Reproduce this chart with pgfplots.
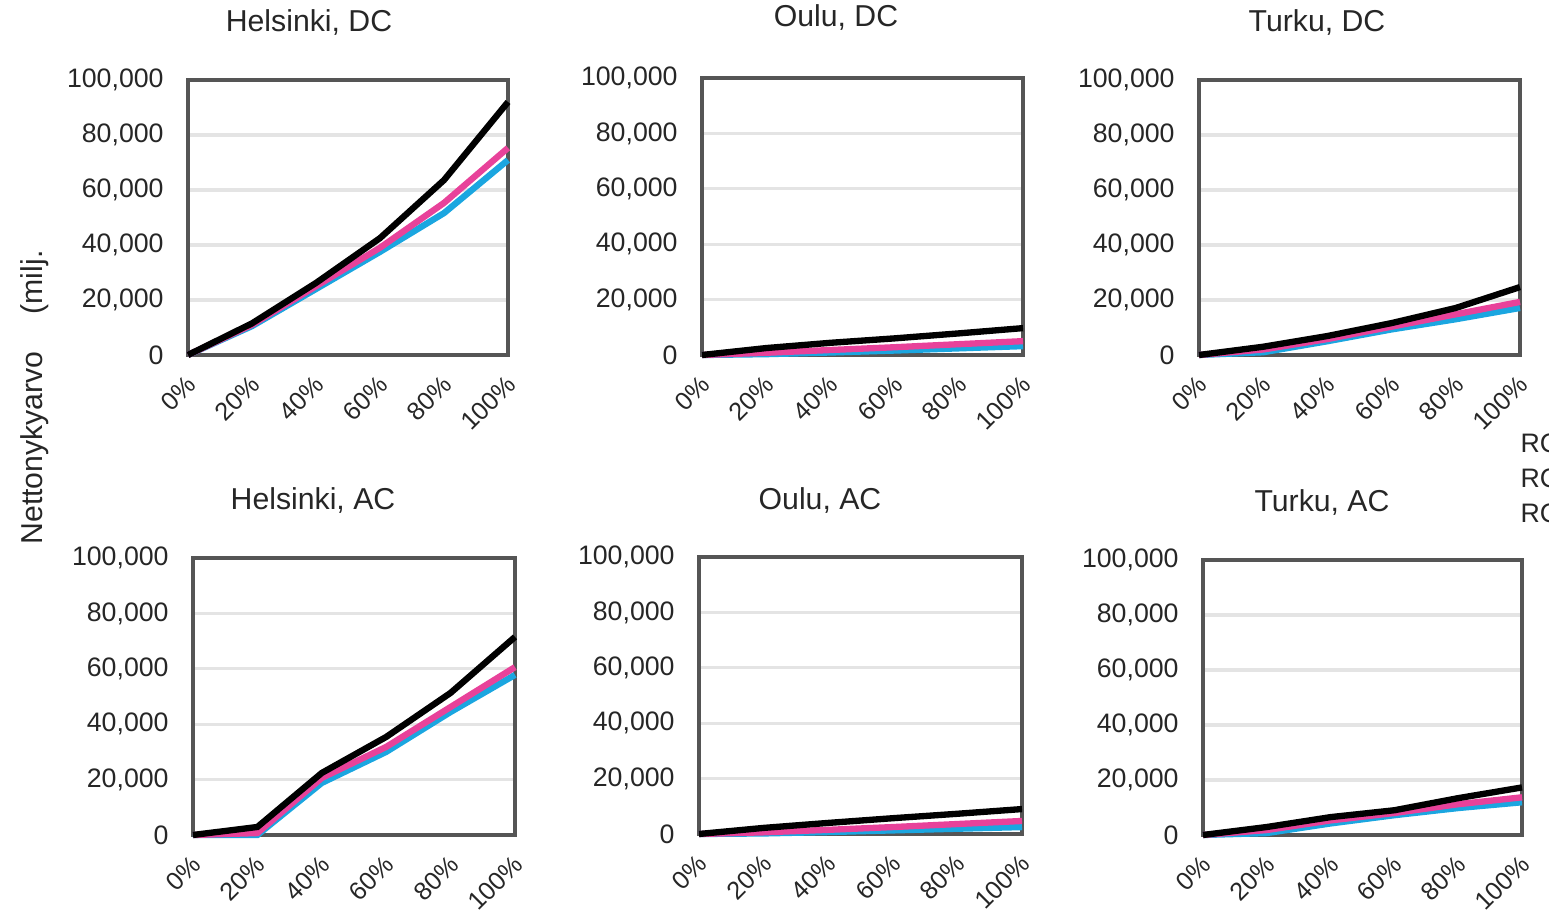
\documentclass[border=0pt]{standalone}
\usepackage{pgfplots}
\pgfplotsset{compat=1.18}
\usepackage{fontspec}
\setmainfont{Liberation Sans}
\definecolor{cpink}{HTML}{E8429A}
\definecolor{cblue}{HTML}{1BA6E0}
\definecolor{gridc}{HTML}{E4E4E4}
\definecolor{framec}{HTML}{555555}
\definecolor{txt}{HTML}{262626}
\pgfplotsset{
  panel/.style={
    scale only axis, anchor=south west,
    width=3.2cm, height=2.75cm,
    xmin=0, xmax=5, ymin=0, ymax=100000,
    xtick={0,1,2,3,4,5},
    xticklabels={0\%,20\%,40\%,60\%,80\%,100\%},
    ytick={0,20000,40000,60000,80000,100000},
    yticklabels={0,{20,000},{40,000},{60,000},{80,000},{100,000}},
    scaled y ticks=false,
    major tick length=0pt,
    axis line style={framec, line width=1pt},
    ymajorgrids, grid style={gridc, line width=0.9pt},
    tick label style={font=\fontsize{7.6}{9}\selectfont, text=txt},
    yticklabel style={xshift=-0.12cm},
    xticklabel style={font=\fontsize{7.2}{9}\selectfont, rotate=45, anchor=east, yshift=-0.2cm, xshift=-0.03cm},
    clip=false,
  },
  sb/.style={cblue, line width=1.8pt},
  sp/.style={cpink, line width=1.8pt},
  sk/.style={black, line width=1.8pt},
}
\begin{document}
\begin{tikzpicture}
\useasboundingbox (0,0) rectangle (15.49,9.12);
% Helsinki DC
\begin{axis}[panel, at={(1.88cm,5.57cm)}]
\addplot[sb] coordinates {(0,0) (1,10500) (2,24000) (3,37500) (4,51600) (5,70900)};
\addplot[sp] coordinates {(0,0) (1,11000) (2,25000) (3,39000) (4,55300) (5,75300)};
\addplot[sk] coordinates {(0,0) (1,11500) (2,26200) (3,42500) (4,63600) (5,92000)};
\end{axis}
% Oulu DC
\begin{axis}[panel, at={(7.02cm,5.57cm)}, width=3.21cm, height=2.77cm]
\addplot[sb] coordinates {(0,0) (1,300) (2,900) (3,1600) (4,2400) (5,3200)};
\addplot[sp] coordinates {(0,0) (1,800) (2,1800) (3,2800) (4,3900) (5,5000)};
\addplot[sk] coordinates {(0,0) (1,2500) (2,4400) (3,6000) (4,7800) (5,9700)};
\end{axis}
% Turku DC
\begin{axis}[panel, at={(11.99cm,5.57cm)}, width=3.21cm]
\addplot[sb] coordinates {(0,0) (1,1000) (2,5000) (3,9300) (4,13000) (5,17100)};
\addplot[sp] coordinates {(0,0) (1,2000) (2,5800) (3,10300) (4,14800) (5,19300)};
\addplot[sk] coordinates {(0,0) (1,3000) (2,6900) (3,11600) (4,17100) (5,24700)};
\end{axis}
% Helsinki AC
\begin{axis}[panel, at={(1.93cm,0.77cm)}, width=3.22cm, height=2.77cm]
\addplot[sb] coordinates {(0,0) (1,0) (2,18800) (3,30000) (4,44400) (5,57800)};
\addplot[sp] coordinates {(0,0) (1,700) (2,20600) (3,31800) (4,46200) (5,60600)};
\addplot[sk] coordinates {(0,0) (1,2900) (2,22400) (3,35400) (4,51300) (5,71500)};
\end{axis}
% Oulu AC
\begin{axis}[panel, at={(6.99cm,0.78cm)}, width=3.23cm, height=2.77cm]
\addplot[sb] coordinates {(0,0) (1,200) (2,700) (3,1300) (4,1900) (5,2500)};
\addplot[sp] coordinates {(0,0) (1,600) (2,1500) (3,2500) (4,3600) (5,4700)};
\addplot[sk] coordinates {(0,0) (1,2200) (2,4000) (3,5700) (4,7300) (5,9000)};
\end{axis}
% Turku AC
\begin{axis}[panel, at={(12.03cm,0.77cm)}, width=3.19cm]
\addplot[sb] coordinates {(0,0) (1,700) (2,4200) (3,7200) (4,9800) (5,11900)};
\addplot[sp] coordinates {(0,0) (1,1800) (2,5300) (3,8000) (4,11200) (5,13700)};
\addplot[sk] coordinates {(0,0) (1,2900) (2,6500) (3,9000) (4,13400) (5,17300)};
\end{axis}
% titles
\begin{scope}[every node/.style={font=\fontsize{8.6}{10}\selectfont, text=txt, inner sep=0pt}]
\node at (3.09,8.90) {Helsinki, DC};
\node at (8.36,8.95) {Oulu, DC};
\node at (13.17,8.90) {Turku, DC};
\node at (3.13,4.12) {Helsinki, AC};
\node at (8.20,4.12) {Oulu, AC};
\node at (13.22,4.10) {Turku, AC};
\node[rotate=90] at (0.35,5.145) {Nettonykyarvo\hspace{0.37cm}(milj.};
\end{scope}
\begin{scope}[every node/.style={font=\fontsize{7.6}{9}\selectfont, text=txt, inner sep=0pt, anchor=west}]
\node at (15.20,4.69) {RC};
\node at (15.20,4.34) {RC};
\node at (15.20,3.99) {RC};
\end{scope}
\end{tikzpicture}
\end{document}
